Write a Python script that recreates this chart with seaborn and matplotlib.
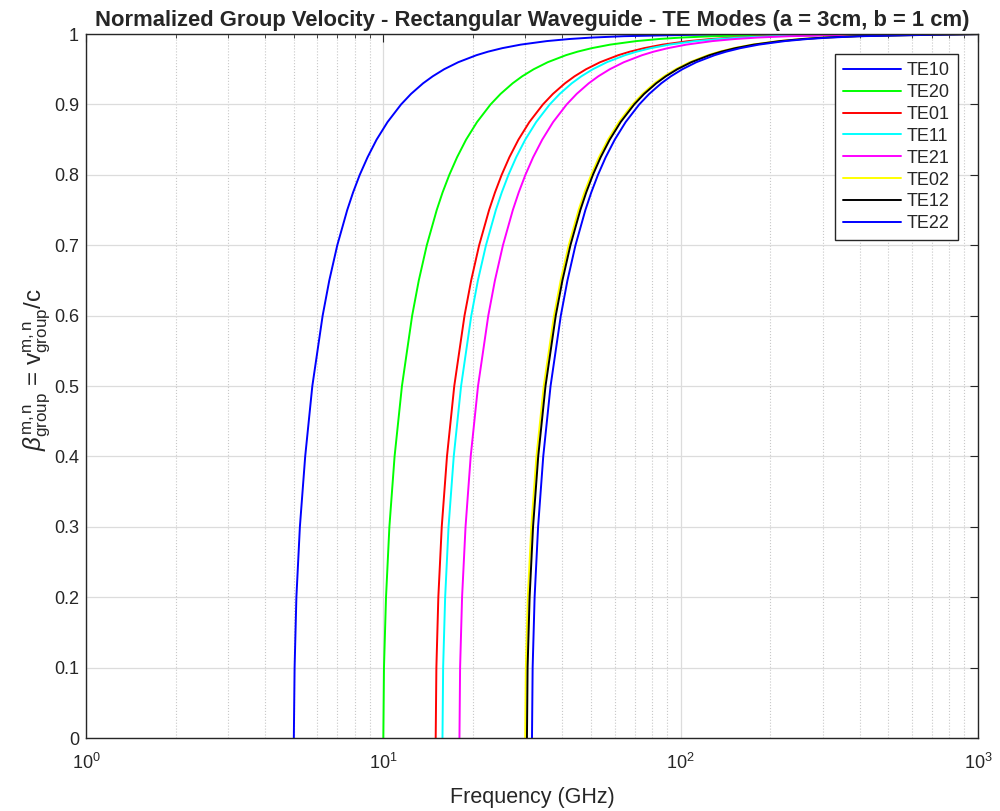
import numpy as np
import pandas as pd
import matplotlib
matplotlib.use("Agg")
import matplotlib.pyplot as plt
import seaborn as sns
from matplotlib.ticker import LogLocator

# normalized group velocity levels
beta_levels = [0, 0.1, 0.2, 0.3, 0.4, 0.5, 0.6, 0.65, 0.7, 0.75, 0.775, 0.8, 0.825, 0.85,
               0.875, 0.9, 0.915, 0.93, 0.94, 0.95, 0.96, 0.97, 0.975, 0.98, 0.985, 0.99,
               0.993, 0.995, 0.997, 0.999, 1.0]

# frequency (GHz) where each mode reaches those levels
f_te10 = [5.00, 5.03, 5.10, 5.24, 5.46, 5.77, 6.25, 6.58, 7.00, 7.56, 7.91, 8.33, 8.85, 9.49,
          10.33, 11.47, 12.39, 13.60, 14.66, 16.01, 17.86, 20.57, 22.50, 25.13, 28.98, 35.44,
          42.33, 50.06, 64.60, 111.8, 1000]
f_te20 = [10.0, 10.05, 10.21, 10.48, 10.91, 11.55, 12.5, 13.16, 14.0, 15.12, 15.82, 16.67, 17.70,
          18.98, 20.66, 22.94, 24.79, 27.21, 29.31, 32.03, 35.71, 41.13, 45.00, 50.25, 57.95,
          70.89, 84.67, 100.1, 129.2, 223.7, 1000]
f_te01 = [15.0, 15.08, 15.31, 15.72, 16.37, 17.32, 18.75, 19.74, 21.0, 22.68, 23.74, 25.0, 26.54,
          28.47, 30.98, 34.41, 37.18, 40.81, 43.97, 48.04, 53.57, 61.70, 67.51, 75.38, 86.93,
          106.3, 127.0, 150.2, 193.8, 335.5, 1000]
f_te11 = [15.81, 15.89, 16.14, 16.57, 17.25, 18.26, 19.76, 20.80, 22.14, 23.90, 25.02, 26.35,
          27.98, 30.01, 32.66, 36.27, 39.19, 43.01, 46.34, 50.63, 56.46, 65.03, 71.15, 79.45,
          91.62, 112.1, 133.9, 158.3, 204.3, 353.6, 1000]
f_te21 = [18.03, 18.12, 18.40, 18.90, 19.67, 20.82, 22.54, 23.73, 25.25, 27.26, 28.53, 30.05,
          31.90, 34.23, 37.24, 41.36, 44.69, 49.05, 52.85, 57.74, 64.39, 74.17, 81.14, 90.60,
          104.5, 127.8, 152.7, 180.5, 232.9, 403.3, 1000]
f_te02 = [30.0, 30.15, 30.62, 31.45, 32.73, 34.64, 37.5, 39.48, 42.01, 45.36, 47.47, 50.0, 53.09,
          56.95, 61.97, 68.83, 74.36, 81.62, 87.93, 96.08, 107.1, 123.4, 135.0, 150.8, 173.9,
          212.7, 254.0, 300.4, 387.6, 671.0, 1000]
f_te12 = [30.41, 30.56, 31.04, 31.88, 33.18, 35.11, 38.01, 40.02, 42.58, 45.98, 48.12, 50.68,
          53.81, 57.73, 62.82, 69.77, 75.37, 82.73, 89.14, 97.39, 108.6, 125.1, 136.9, 152.8,
          176.2, 215.6, 257.5, 304.5, 392.9, 680.2, 1000]
f_te22 = [31.62, 31.78, 32.27, 33.15, 34.50, 36.51, 39.53, 41.61, 44.28, 47.81, 50.04, 52.70,
          55.95, 60.02, 65.31, 72.54, 78.37, 86.03, 92.68, 101.3, 112.9, 130.1, 142.3, 158.9,
          183.2, 224.1, 267.7, 316.6, 408.5, 707.2, 1000]

modes = ["TE10", "TE20", "TE01", "TE11", "TE21", "TE02", "TE12", "TE22"]
freqs = [f_te10, f_te20, f_te01, f_te11, f_te21, f_te02, f_te12, f_te22]
colors = ["#0000ff", "#00ff00", "#ff0000", "#00ffff", "#ff00ff", "#ffff00", "#000000", "#0000ff"]

df = pd.concat([pd.DataFrame({"mode": m, "f": f, "beta": beta_levels})
                for m, f in zip(modes, freqs)], ignore_index=True)

sns.set_style("white")
plt.rcParams["font.family"] = ["Liberation Sans", "DejaVu Sans"]
plt.rcParams["mathtext.fontset"] = "custom"
plt.rcParams["mathtext.rm"] = "Liberation Sans"
plt.rcParams["mathtext.it"] = "Liberation Sans:italic"

fig = plt.figure(figsize=(10, 8.11), dpi=100)
ax = fig.add_axes([0.086, 0.090, 0.892, 0.868])

sns.lineplot(data=df, x="f", y="beta", hue="mode", palette=dict(zip(modes, colors)),
             hue_order=modes, estimator=None, sort=False, lw=1.4, ax=ax)

ax.set_xscale("log")
ax.set_xlim(1, 1000)
ax.set_ylim(0, 1)
yt = np.round(np.arange(0, 1.01, 0.1), 1)
ax.set_yticks(yt)
ax.set_yticklabels([f"{v:g}" for v in yt])
ax.xaxis.set_major_locator(LogLocator(base=10))
ax.xaxis.set_minor_locator(LogLocator(base=10, subs=np.arange(2, 10)))

ax.grid(True, which="major", color="#dcdcdc", lw=0.9, ls="-")
ax.grid(True, which="minor", axis="x", color="#c8c8c8", lw=0.8, ls=":")
ax.set_axisbelow(True)

for s in ax.spines.values():
    s.set_color("#262626")
    s.set_linewidth(1.0)
ax.tick_params(which="both", direction="in", top=True, right=True, colors="#262626",
               labelsize=13)
ax.tick_params(which="major", length=6)
ax.tick_params(which="minor", length=3)
ax.tick_params(axis="x", pad=11)
ax.tick_params(axis="y", pad=5)

ax.set_xlabel("Frequency (GHz)", fontsize=15.5, color="#262626", labelpad=10)
ax.set_ylabel(r"$\beta^{\mathrm{m,n}}_{\mathrm{group}}$ = v$^{\mathrm{m,n}}_{\mathrm{group}}$/c",
              fontsize=17.5, color="#262626")
ax.yaxis.set_label_coords(-0.037, 0.523)
ax.set_title("Normalized Group Velocity - Rectangular Waveguide - TE Modes (a = 3cm, b = 1 cm)",
             fontsize=15.8, fontweight="bold", pad=6)

leg = ax.legend(loc="upper right", bbox_to_anchor=(0.9776, 0.9716), borderaxespad=0,
                fontsize=13, frameon=True, fancybox=False, handlelength=3.2,
                handletextpad=0.35, labelspacing=0.27, borderpad=0.45)
leg.get_frame().set_edgecolor("#262626")
leg.get_frame().set_linewidth(1.0)
leg.get_frame().set_alpha(1)

fig.savefig("out.png", dpi=100)
